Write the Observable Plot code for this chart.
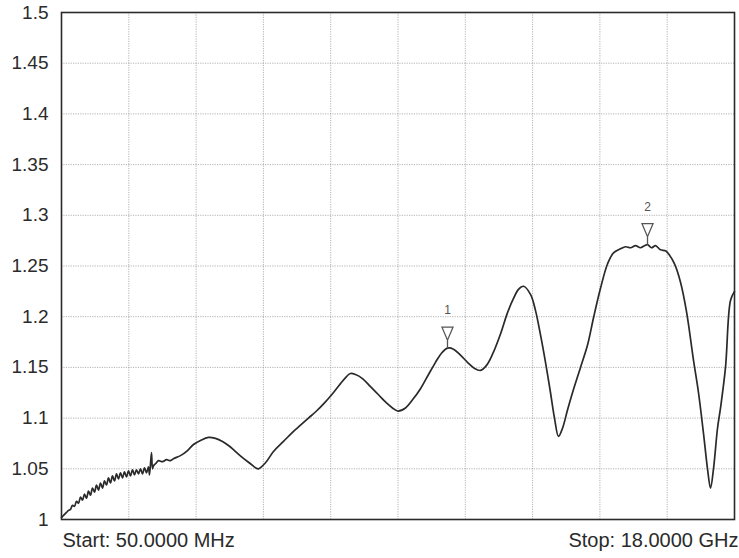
<!DOCTYPE html>
<html>
<head>
<meta charset="utf-8">
<script src="https://cdn.jsdelivr.net/npm/d3@7"></script>
<script src="https://cdn.jsdelivr.net/npm/@observablehq/plot@0.6"></script>
<style>
  html, body { margin: 0; padding: 0; background: #fff; }
  #chart { width: 739px; height: 558px; }
</style>
</head>
<body>
<div id="chart"></div>
<script>
// Frequency (GHz) and VSWR
const freqGHz = [
  0.050, 0.077, 0.130, 0.183, 0.237, 0.290, 0.343, 0.397, 0.450, 0.503, 0.557,
  0.610, 0.663, 0.717, 0.770, 0.823, 0.877, 0.930, 0.984, 1.037, 1.090,
  1.144, 1.197, 1.250, 1.304, 1.357, 1.410, 1.464, 1.517, 1.570, 1.624,
  1.677, 1.730, 1.784, 1.837, 1.890, 1.944, 1.997, 2.050, 2.104, 2.157,
  2.210, 2.264, 2.317, 2.370, 2.397, 2.450, 2.477, 2.504, 2.557, 2.637,
  2.744, 2.851, 2.957, 3.037, 3.224, 3.411, 3.571, 3.757, 3.971, 4.157,
  4.344, 4.504, 4.691, 4.878, 5.091, 5.224, 5.304, 5.491, 5.704, 5.971,
  6.211, 6.425, 6.638, 6.851, 7.065, 7.278, 7.491, 7.652, 7.758, 7.892,
  8.078, 8.292, 8.505, 8.718, 8.878, 9.012, 9.225, 9.412, 9.625, 9.839,
  10.025, 10.185, 10.345, 10.505, 10.692, 10.879, 11.066, 11.226, 11.386, 11.546,
  11.759, 11.946, 12.106, 12.239, 12.372, 12.559, 12.693, 12.826, 12.959, 13.093,
  13.199, 13.306, 13.413, 13.546, 13.679, 13.893, 14.080, 14.240, 14.426, 14.613,
  14.773, 14.960, 15.093, 15.227, 15.360, 15.493, 15.600, 15.680, 15.786, 15.893,
  16.026, 16.160, 16.240, 16.400, 16.560, 16.720, 16.907, 17.040, 17.173, 17.280,
  17.360, 17.440, 17.547, 17.627, 17.760, 17.893, 18.000
];
const vswr = [
  1.002, 1.003, 1.005, 1.007, 1.009, 1.010, 1.014, 1.013, 1.018, 1.016, 1.022,
  1.019, 1.025, 1.021, 1.028, 1.024, 1.031, 1.027, 1.034, 1.029, 1.036,
  1.031, 1.038, 1.034, 1.041, 1.036, 1.043, 1.038, 1.045, 1.040, 1.046,
  1.041, 1.047, 1.042, 1.048, 1.043, 1.049, 1.044, 1.049, 1.045, 1.050,
  1.045, 1.051, 1.046, 1.052, 1.044, 1.066, 1.050, 1.053, 1.055, 1.058,
  1.057, 1.059, 1.058, 1.060, 1.063, 1.068, 1.074, 1.078, 1.081, 1.080,
  1.077, 1.073, 1.067, 1.061, 1.055, 1.051, 1.050, 1.056, 1.067, 1.077,
  1.086, 1.093, 1.100, 1.107, 1.115, 1.124, 1.134, 1.141, 1.144, 1.143,
  1.139, 1.131, 1.123, 1.115, 1.110, 1.107, 1.110, 1.118, 1.129, 1.143,
  1.155, 1.164, 1.169, 1.168, 1.162, 1.155, 1.149, 1.147, 1.152, 1.163,
  1.183, 1.204, 1.218, 1.227, 1.230, 1.222, 1.206, 1.182, 1.155, 1.125,
  1.100, 1.082, 1.090, 1.108, 1.125, 1.150, 1.172, 1.199, 1.228, 1.252,
  1.263, 1.267, 1.269, 1.268, 1.270, 1.268, 1.270, 1.271, 1.268, 1.270,
  1.266, 1.265, 1.262, 1.252, 1.234, 1.205, 1.157, 1.125, 1.085, 1.050,
  1.031, 1.050, 1.090, 1.110, 1.150, 1.216, 1.225
];
const yTicks = [1, 1.05, 1.1, 1.15, 1.2, 1.25, 1.3, 1.35, 1.4, 1.45, 1.5];
const yTickLabels = ["1", "1.05", "1.1", "1.15", "1.2", "1.25", "1.3", "1.35", "1.4", "1.45", "1.5"];
const markerFreq = [10.345, 15.680];
const markerVswr = [1.169, 1.271];
const markerLabels = ["1", "2"];
const startLabel = "Start: 50.0000 MHz";
const stopLabel = "Stop: 18.0000 GHz";

const trace = freqGHz.map((f, i) => ({f, v: vswr[i]}));
const markers = markerFreq.map((f, i) => ({f, v: markerVswr[i], label: markerLabels[i]}));

const xDomain = [0.05, 18];
const xGrid = d3.range(1, 10).map(i => xDomain[0] + i * (xDomain[1] - xDomain[0]) / 10);

// downward-pointing marker with stem; tip of stem sits on the data point
const markerSymbol = {
  draw(ctx, size) {
    ctx.moveTo(-5.5, -21);
    ctx.lineTo(5.5, -21);
    ctx.lineTo(0, -8);
    ctx.closePath();
    ctx.moveTo(0, -8);
    ctx.lineTo(0, 0);
  }
};

const chart = Plot.plot({
  width: 739,
  height: 558,
  marginTop: 12,
  marginRight: 5,
  marginBottom: 39,
  marginLeft: 61,
  style: {fontFamily: "'Liberation Sans', Arial, sans-serif", fontSize: "19px", color: "#2b2b2b", background: "#fff"},
  x: {domain: xDomain, axis: null},
  y: {domain: [1, 1.5], ticks: yTicks, tickFormat: (d) => yTickLabels[yTicks.indexOf(d)], tickSize: 0, tickPadding: 13, label: null},
  marks: [
    Plot.ruleX(xGrid, {stroke: "#8a8a8a", strokeOpacity: 0.65, strokeDasharray: "1.2,1.2", strokeWidth: 1}),
    Plot.ruleY(yTicks.slice(1, -1), {stroke: "#8a8a8a", strokeOpacity: 0.65, strokeDasharray: "1.2,1.2", strokeWidth: 1}),
    Plot.line(trace, {x: "f", y: "v", stroke: "#2a2a2a", strokeWidth: 1.7, curve: "catmull-rom"}),
    Plot.dot(markers, {x: "f", y: "v", symbol: markerSymbol, r: 5, stroke: "#555", strokeWidth: 1.3, fill: "white"}),
    Plot.text(markers, {x: "f", y: "v", text: "label", dy: -38, fontSize: 12, fill: "#555"}),
    Plot.frame({stroke: "#2a2a2a", strokeWidth: 1.6}),
    Plot.text([startLabel], {frameAnchor: "bottom-left", dx: 1, dy: 27, textAnchor: "start", fontSize: 20, fill: "#2b2b2b"}),
    Plot.text([stopLabel], {frameAnchor: "bottom-right", dx: 4, dy: 27, textAnchor: "end", fontSize: 20, fill: "#2b2b2b"})
  ]
});
document.getElementById("chart").appendChild(chart);
</script>
</body>
</html>
